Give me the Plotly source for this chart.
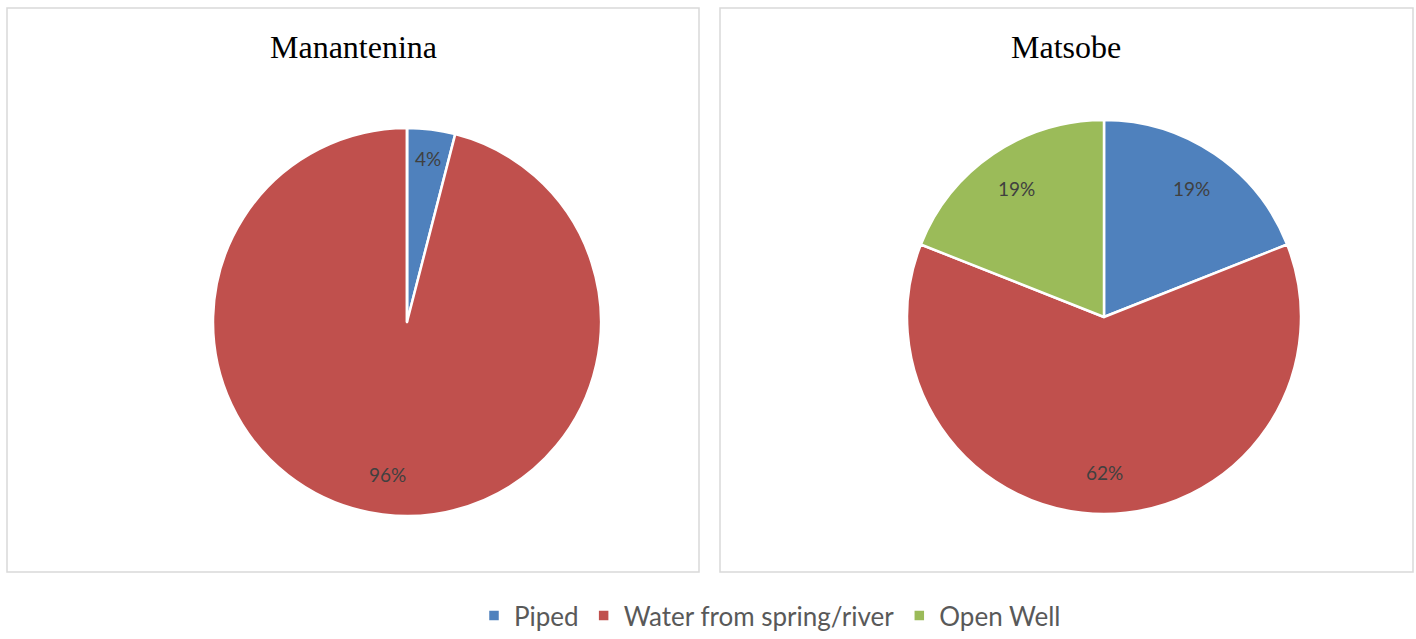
import math
import plotly.graph_objects as go

categories = ["Piped", "Water from spring/river", "Open Well"]
manantenina_values = [4, 96, 0]
matsobe_values = [19, 62, 19]
titles = ["Manantenina", "Matsobe"]
colors = ["#4F81BD", "#C0504D", "#9BBB59"]

W, H = 1416, 639
LABEL_R = 0.79

def dom(cx, cy, r):
    return dict(x=[(cx - r) / W, (cx + r) / W], y=[(H - cy - r) / H, (H - cy + r) / H])

pies = [(manantenina_values, (407, 322, 194)), (matsobe_values, (1104, 317, 197))]

fig = go.Figure()
annotations = []
for i, (vals, (cx, cy, r)) in enumerate(pies):
    fig.add_trace(go.Pie(
        labels=categories, values=vals, sort=False, direction="clockwise", rotation=0,
        domain=dom(cx, cy, r), marker=dict(colors=colors, line=dict(color="white", width=2.5)),
        textinfo="none", showlegend=(i == 0), hoverinfo="label+percent",
    ))
    total = sum(vals)
    cum = 0
    for v in vals:
        if v > 0:
            mid = (cum + v / 2) / total * 2 * math.pi
            frac = LABEL_R + (0.06 if v / total < 0.1 else 0.0)
            px = cx + frac * r * math.sin(mid)
            py = cy - frac * r * math.cos(mid)
            annotations.append(dict(
                text=f"{round(v / total * 100)}%", x=px / W, y=(H - py) / H,
                xref="paper", yref="paper", showarrow=False, xanchor="center", yanchor="middle",
                font=dict(family="Lato, Open Sans, sans-serif", size=19, color="#404040")))
        cum += v

shapes = []
for x0, x1 in [(7, 699), (720, 1413)]:
    shapes.append(dict(type="rect", xref="paper", yref="paper",
                       x0=x0 / W, x1=x1 / W, y0=(H - 572) / H, y1=(H - 8) / H,
                       line=dict(color="#D9D9D9", width=1.5), fillcolor="rgba(0,0,0,0)", layer="below"))

for t, cx in zip(titles, [353, 1066]):
    annotations.append(dict(text=t, x=cx / W, y=(H - 47) / H, xref="paper", yref="paper",
                            showarrow=False, xanchor="center", yanchor="middle",
                            font=dict(family="Liberation Serif, Times New Roman, serif", size=32, color="black")))

fig.update_layout(
    width=W, height=H, margin=dict(l=0, r=0, t=0, b=0),
    paper_bgcolor="white", plot_bgcolor="white",
    shapes=shapes, annotations=annotations,
    legend=dict(orientation="h", x=770 / W, xanchor="center", y=0.0, yanchor="bottom",
                font=dict(family="Lato, Open Sans, sans-serif", size=26, color="#595959"),
                traceorder="normal", itemclick=False),
)
fig.write_html("out.html")
